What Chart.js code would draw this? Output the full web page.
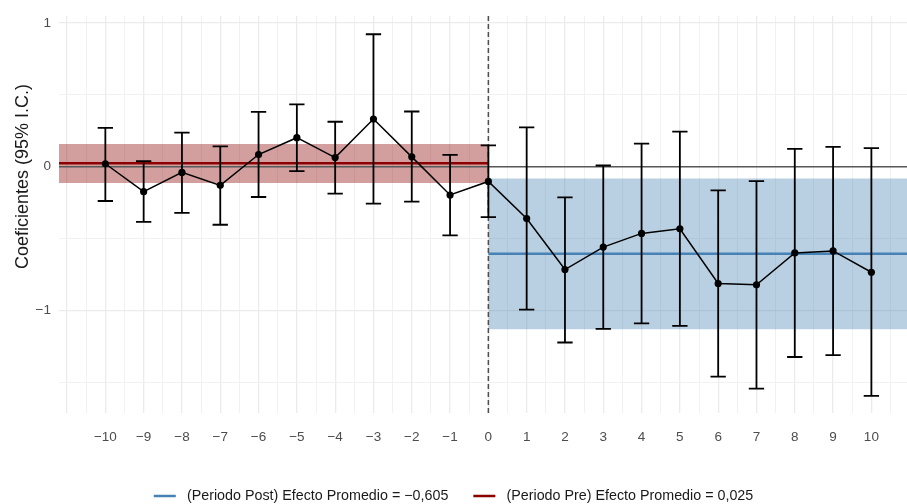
<!DOCTYPE html>
<html>
<head>
<meta charset="utf-8">
<script src="https://cdn.jsdelivr.net/npm/chart.js@4.4.0/dist/chart.umd.min.js"></script>
<style>
	html, body { margin: 0; padding: 0; background: #fff; }
</style>
</head>
<body>
<canvas id="chart" width="907" height="504"></canvas>
<script>
// event-study coefficients
const periods = [-10, -9, -8, -7, -6, -5, -4, -3, -2, -1, 0, 1, 2, 3, 4, 5, 6, 7, 8, 9, 10];
const coefs   = [0.021, -0.173, -0.039, -0.129, 0.085, 0.202, 0.064, 0.332, 0.069, -0.196, -0.102,
                 -0.36, -0.714, -0.558, -0.463, -0.431, -0.811, -0.82, -0.599, -0.585, -0.733];
const ciHigh  = [0.27, 0.039, 0.237, 0.142, 0.382, 0.433, 0.313, 0.921, 0.384, 0.083, 0.149,
                 0.274, -0.212, 0.009, 0.161, 0.244, -0.164, -0.1, 0.124, 0.138, 0.129];
const ciLow   = [-0.238, -0.383, -0.32, -0.403, -0.21, -0.03, -0.187, -0.256, -0.242, -0.477, -0.35,
                 -0.993, -1.221, -1.127, -1.088, -1.106, -1.458, -1.541, -1.322, -1.309, -1.592];

// average effects with their bands
const preEffect  = [0.025, -0.113, 0.159];   // mean, low, high
const postEffect = [-0.605, -1.129, -0.081];
const preLabel  = '(Periodo Pre) Efecto Promedio = 0,025';
const postLabel = '(Periodo Post) Efecto Promedio = \u22120,605';

const xTickLabels = [-10, -9, -8, -7, -6, -5, -4, -3, -2, -1, 0, 1, 2, 3, 4, 5, 6, 7, 8, 9, 10];
const yTickLabels = [-1, 0, 1];
const yTitle = 'Coeficientes (95% I.C.)';

const X_MIN = -11.21, X_MAX = 10.93;
const Y_MIN = -1.711, Y_MAX = 1.047;
const CAP = 0.2;
const FONT = '"Liberation Sans", Arial, sans-serif';

const xGrid = [];
for (let v = -11; v <= X_MAX; v += 0.5) xGrid.push(v);
const yGrid = [-1.5, -1, -0.5, 0, 0.5, 1];

const fmt = v => String(v).replace('-', '\u2212');

// error bars as one broken line: stem, top cap, bottom cap
let errData = [];
periods.forEach((p, i) => {
	errData.push({x: p, y: ciLow[i]}, {x: p, y: ciHigh[i]}, {x: p, y: null});
	errData.push({x: p - CAP, y: ciHigh[i]}, {x: p + CAP, y: ciHigh[i]}, {x: p, y: null});
	errData.push({x: p - CAP, y: ciLow[i]}, {x: p + CAP, y: ciLow[i]}, {x: p, y: null});
});

function band(x0, x1, eff, color, order) {
	return {
		label: 'band',
		data: [{x: x0, y: eff[2]}, {x: x1, y: eff[2]}],
		fill: {value: eff[1]},
		backgroundColor: color,
		borderWidth: 0,
		pointRadius: 0,
		order: order
	};
}

function hline(x0, x1, y, color, width, label, order) {
	return {
		label: label,
		data: [{x: x0, y: y}, {x: x1, y: y}],
		borderColor: color,
		backgroundColor: color,
		borderWidth: width,
		pointRadius: 0,
		fill: false,
		order: order
	};
}

const yTitlePlugin = {
	id: 'yTitle',
	afterDraw(chart) {
		const ctx = chart.ctx;
		ctx.save();
		ctx.translate(23, 176.5);
		ctx.rotate(-Math.PI / 2);
		ctx.font = '18px ' + FONT;
		ctx.fillStyle = '#1a1a1a';
		ctx.textAlign = 'center';
		ctx.textBaseline = 'middle';
		ctx.fillText(yTitle, 0, 0);
		ctx.restore();
	}
};

new Chart(document.getElementById('chart'), {
	type: 'line',
	data: {
		datasets: [
			band(X_MIN, 0, preEffect, 'rgba(139,0,0,0.38)', 20),
			band(0, X_MAX, postEffect, 'rgba(70,130,180,0.38)', 19),
			hline(0, X_MAX, postEffect[0], '#4682b4', 2.5, postLabel, 17),
			hline(X_MIN, 0, preEffect[0], '#8b0000', 2.5, preLabel, 18),
			hline(X_MIN, X_MAX, 0, '#595959', 1.5, 'zero', 16),
			{
				label: 'vline',
				data: [{x: 0, y: Y_MIN}, {x: 0, y: Y_MAX}],
				borderColor: '#4d4d4d',
				borderWidth: 1.5,
				borderDash: [5, 3],
				pointRadius: 0,
				order: 15
			},
			{
				label: 'ci',
				data: errData,
				borderColor: '#000',
				borderWidth: 1.8,
				pointRadius: 0,
				spanGaps: false,
				order: 14
			},
			{
				label: 'coef',
				data: periods.map((p, i) => ({x: p, y: coefs[i]})),
				borderColor: '#000',
				backgroundColor: '#000',
				borderWidth: 1.5,
				pointRadius: 3.6,
				pointBorderWidth: 0,
				order: 13
			}
		]
	},
	options: {
		responsive: false,
		animation: false,
		events: [],
		layout: {autoPadding: false, padding: {top: 14, right: 0, left: 0, bottom: -9.15}},
		scales: {
			x: {
				type: 'linear',
				min: X_MIN,
				max: X_MAX,
				afterBuildTicks: s => { s.ticks = xGrid.map(v => ({value: v})); },
				afterFit: s => { s.height = 50.85; s.paddingLeft = 0; s.paddingRight = 0; },
				border: {display: false},
				grid: {
					drawTicks: false,
					color: c => Number.isInteger(c.tick.value) ? '#ebebeb' : '#f1f1f1',
					lineWidth: c => Number.isInteger(c.tick.value) ? 1.3 : 1
				},
				ticks: {
					autoSkip: false,
					maxRotation: 0,
					padding: 16,
					color: '#4d4d4d',
					font: {family: FONT, size: 13.5},
					callback: v => xTickLabels.includes(v) ? fmt(v) : ''
				}
			},
			y: {
				min: Y_MIN,
				max: Y_MAX,
				afterBuildTicks: s => { s.ticks = yGrid.map(v => ({value: v})); },
				afterFit: s => { s.width = 59; },
				border: {display: false},
				grid: {
					drawTicks: false,
					color: c => Number.isInteger(c.tick.value) ? '#ebebeb' : '#f1f1f1',
					lineWidth: c => Number.isInteger(c.tick.value) ? 1.3 : 1
				},
				ticks: {
					padding: 8,
					color: '#4d4d4d',
					font: {family: FONT, size: 13.5},
					callback: v => yTickLabels.includes(v) ? fmt(v) : ''
				}
			}
		},
		plugins: {
			tooltip: {enabled: false},
			legend: {
				position: 'bottom',
				labels: {
					usePointStyle: true,
					pointStyle: 'line',
					pointStyleWidth: 22,
					padding: 25,
					color: '#1a1a1a',
					font: {family: FONT, size: 14.3},
					// a little extra room between key and text
					generateLabels: chart => Chart.defaults.plugins.legend.labels.generateLabels(chart)
						.map(l => Object.assign(l, {text: ' ' + l.text})),
					filter: item => item.text.includes('Efecto')
				}
			}
		}
	},
	plugins: [yTitlePlugin]
});
</script>
</body>
</html>
